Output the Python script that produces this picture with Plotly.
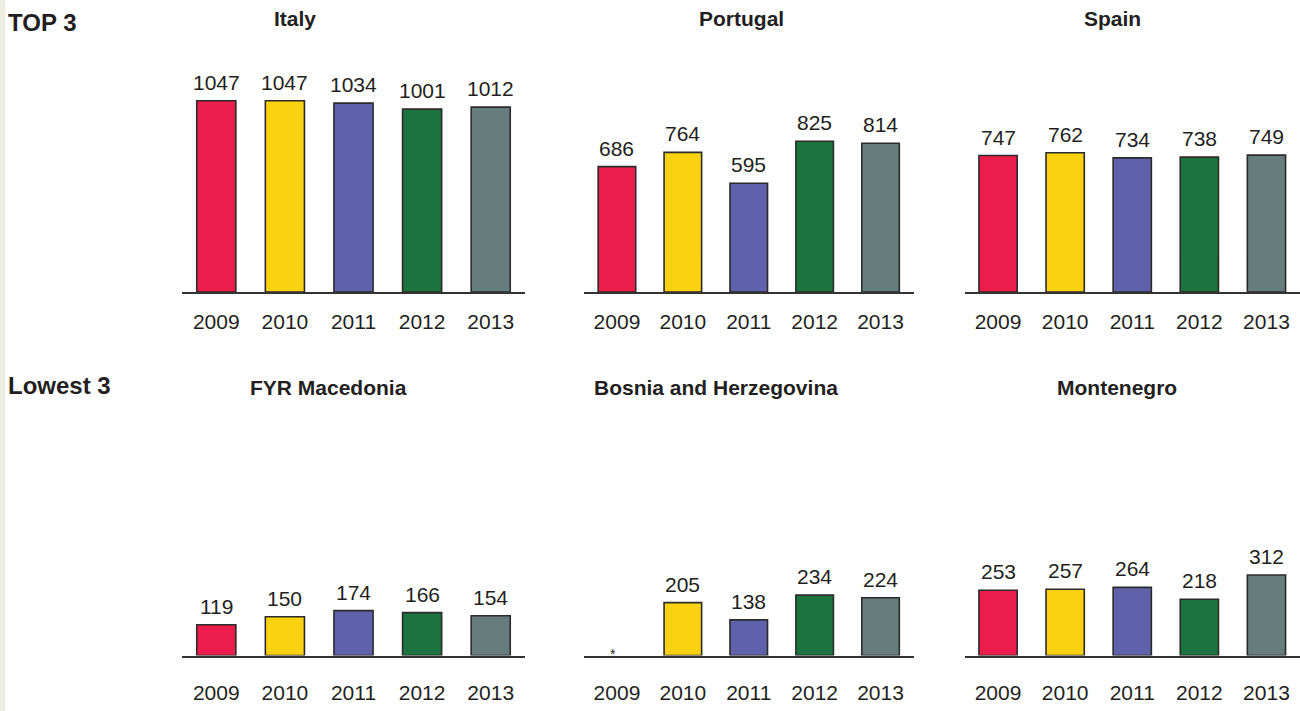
import plotly.graph_objects as go

W, H = 1300, 711

years = ["2009", "2010", "2011", "2012", "2013"]
bar_colors = ["#EC1C4B", "#FBD20F", "#5F62AA", "#1B733D", "#667C7D"]

italy = [1047, 1047, 1034, 1001, 1012]
portugal = [686, 764, 595, 825, 814]
spain = [747, 762, 734, 738, 749]
macedonia = [119, 150, 174, 166, 154]
bosnia = [None, 205, 138, 234, 224]
montenegro = [253, 257, 264, 218, 312]

row_labels = ["TOP 3", "Lowest 3"]
panel_titles = ["Italy", "Portugal", "Spain",
                "FYR Macedonia", "Bosnia and Herzegovina", "Montenegro"]
panels = [italy, portugal, spain, macedonia, bosnia, montenegro]
missing_mark = "*"

TXT = "#231F20"
FONT = "Liberation Sans, Arial, sans-serif"

# layout in pixels
col_px = [(182, 525), (584, 913.5), (964.5, 1300)]
row_base_px = [292, 655.5]
row_top_px = [60, 420]
row_scale = [0.1827, 0.258]  # px per unit
title_px = [(294.5, 18), (741.5, 19), (1112, 19),
            (328.5, 387), (716, 387.5), (1116.5, 387)]
row_label_px = [(6, 23), (6, 385)]
tick_standoff = [10, 17]

fig = go.Figure()
layout = dict(
    width=W, height=H,
    margin=dict(l=0, r=0, t=0, b=0),
    paper_bgcolor="white", plot_bgcolor="white",
    showlegend=False,
    font=dict(family=FONT, color=TXT, size=21),
    bargap=0.43,
)
annotations = []

for i, (vals, title) in enumerate(zip(panels, panel_titles)):
    r, c = divmod(i, 3)
    n = i + 1
    xa = "x" if n == 1 else f"x{n}"
    ya = "y" if n == 1 else f"y{n}"
    fig.add_trace(go.Bar(
        x=years, y=vals, xaxis=xa, yaxis=ya,
        marker=dict(color=bar_colors, line=dict(color="#2B2B2B", width=1.6)),
        hoverinfo="x+y",
    ))
    x0, x1 = col_px[c]
    yb, yt = row_base_px[r], row_top_px[r]
    ymax = (yb - yt) / row_scale[r]
    layout["xaxis" if n == 1 else f"xaxis{n}"] = dict(
        type="category", categoryorder="array", categoryarray=years,
        range=[-0.5, len(years) - 0.5],
        domain=[x0 / W, x1 / W], anchor=ya,
        showline=True, linecolor="#333333", linewidth=2,
        showgrid=False, zeroline=False, ticks="",
        ticklabelstandoff=tick_standoff[r],
        tickfont=dict(size=21, color=TXT, family=FONT),
        fixedrange=True,
    )
    layout["yaxis" if n == 1 else f"yaxis{n}"] = dict(
        domain=[1 - yb / H, 1 - yt / H], anchor=xa,
        range=[0, ymax], visible=False, fixedrange=True,
    )
    for j, v in enumerate(vals):
        if v is None:
            annotations.append(dict(
                x=j, y=0, xref=xa, yref=ya, text=missing_mark,
                showarrow=False, yanchor="bottom", xshift=-4, yshift=-8,
                font=dict(size=14, color=TXT, family=FONT)))
        else:
            annotations.append(dict(
                x=j, y=v, xref=xa, yref=ya, text=str(v),
                showarrow=False, yanchor="bottom", yshift=5,
                font=dict(size=21, color=TXT, family=FONT)))
    tx, ty = title_px[i]
    annotations.append(dict(
        x=tx / W, y=1 - ty / H, xref="paper", yref="paper",
        text=f"<b>{title}</b>", showarrow=False,
        xanchor="center", yanchor="middle",
        font=dict(size=21, color=TXT, family=FONT)))

for lab, (lx, ly) in zip(row_labels, row_label_px):
    annotations.append(dict(
        x=lx / W, y=1 - ly / H, xref="paper", yref="paper",
        text=f"<b>{lab}</b>", showarrow=False,
        xanchor="left", yanchor="middle",
        font=dict(size=24, color=TXT, family=FONT)))

layout["annotations"] = annotations
layout["shapes"] = [dict(
    type="rect", xref="paper", yref="paper",
    x0=0, x1=5.5 / W, y0=0, y1=1,
    fillcolor="#EFEEE3", line=dict(width=0), layer="below")]

fig.update_layout(**layout)
fig.write_html(
    "out.html",
    config={"displayModeBar": False},
    post_script="document.body.style.margin='0';document.body.style.overflow='hidden';",
)
